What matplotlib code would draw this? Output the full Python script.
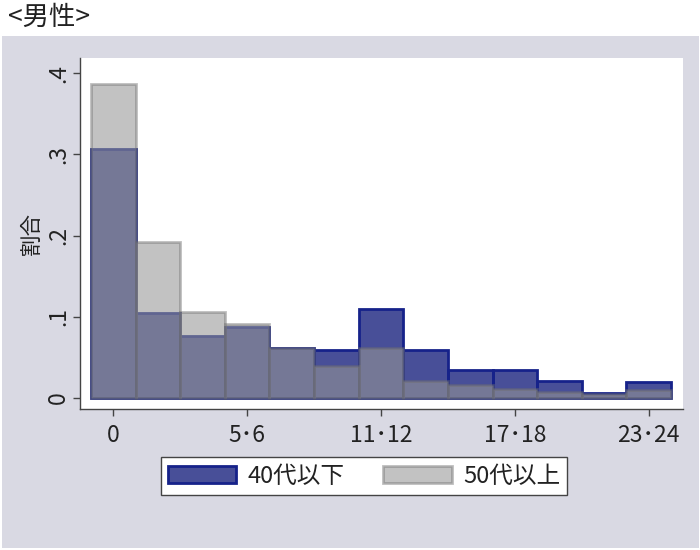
import numpy as np
import matplotlib.pyplot as plt
from matplotlib.patches import Rectangle

plt.rcParams['font.family'] = ['Noto Sans CJK JP', 'DejaVu Sans']

# bins: 0, 1-2, 3-4, ..., 23-24
bins = np.arange(13)
young = [0.306, 0.105, 0.076, 0.087, 0.061, 0.059, 0.110, 0.059, 0.035, 0.035, 0.021, 0.006, 0.020]
old = [0.386, 0.192, 0.106, 0.091, 0.062, 0.039, 0.061, 0.021, 0.016, 0.011, 0.007, 0.005, 0.010]
tick_pos = [0, 3, 6, 9, 12]
tick_labels = ['0', '5･6', '11･12', '17･18', '23･24']
y_ticks = [0, 0.1, 0.2, 0.3, 0.4]
y_labels = ['0', '.1', '.2', '.3', '.4']

fig = plt.figure(figsize=(7, 5.5), dpi=100)
fig.patches.append(Rectangle((2 / 700, 2 / 550), 697 / 700, 512 / 550,
                             transform=fig.transFigure, facecolor='#d9d9e3',
                             edgecolor='none', zorder=-5))
fig.text(8 / 700, 1 - 17 / 550, '<男性>', fontsize=19, va='center', ha='left', color='#222222')

ax = fig.add_axes([80 / 700, 141 / 550, 603 / 700, 351 / 550], zorder=1)
ax.set_facecolor('white')

ax.bar(bins, young, width=1, color=(26 / 255, 35 / 255, 126 / 255, 0.8),
       edgecolor='#16228a', linewidth=2, label='40代以下', zorder=2)
ax.bar(bins, old, width=1, color=(150 / 255, 150 / 255, 150 / 255, 0.58),
       edgecolor=(110 / 255, 110 / 255, 110 / 255, 0.45), linewidth=2, label='50代以上', zorder=3)

ax.set_xlim(-0.747, 12.77)
ax.set_ylim(-0.0135, 0.4185)
ax.set_xticks(tick_pos)
ax.set_xticklabels(tick_labels, fontsize=16.5, color='#222222')
ax.set_yticks(y_ticks)
ax.set_yticklabels(y_labels, fontsize=16.5, rotation=90, va='center', color='#222222')
ax.tick_params(direction='out', length=5, width=1, color='#444444')
ax.tick_params(axis='x', pad=6)
ax.tick_params(axis='y', pad=2)
ax.set_ylabel('割合', fontsize=15.5, color='#222222', labelpad=3)

for s in ['top', 'right']:
    ax.spines[s].set_visible(False)
for s in ['left', 'bottom']:
    ax.spines[s].set_color('#444444')
    ax.spines[s].set_linewidth(1)

leg = fig.legend(loc='center', bbox_to_anchor=(364 / 700, 1 - 476 / 550), ncol=2,
                 fontsize=17, frameon=True, fancybox=False, edgecolor='#444444',
                 facecolor='white', framealpha=1,
                 handlelength=2.9, handleheight=0.76, columnspacing=1.65, handletextpad=0.47,
                 borderpad=0.3)
leg.get_frame().set_linewidth(1)
for t in leg.get_texts():
    t.set_color('#222222')

fig.savefig('out.png', dpi=100)
